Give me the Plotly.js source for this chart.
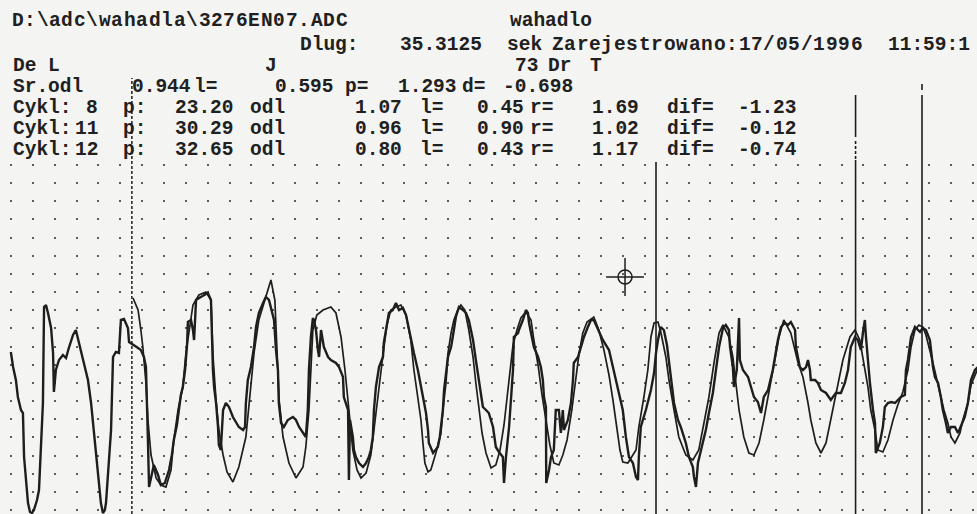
<!DOCTYPE html>
<html>
<head>
<meta charset="utf-8">
<script src="https://cdn.plot.ly/plotly-3.0.1.min.js"></script>
<style>
  html, body { margin: 0; padding: 0; background: #f4f4f2; }
  #chart { width: 977px; height: 514px; }
</style>
</head>
<body>
<div id="chart"></div>
<script>
// ---- header information ----
const fileName = "D:\\adc\\wahadla\\3276EN07.ADC";
const testName = "wahadlo";
const durationSec = 35.3125;
const recDate = "17/05/1996";
const recTime = "11:59:1";
const headerLeft = "De L";
const headerMid = "J";
const headerRight = "73 Dr T";

// mean values (Sr.odl row)
const meanOdl = 0.944;
const meanL = 0.595;
const meanP = 1.293;
const meanD = -0.698;

// selected cycles
const cycleNo = [8, 11, 12];
const cycleP = [23.20, 30.29, 32.65];      // cycle position [s]
const cycleOdl = [1.07, 0.96, 0.80];
const cycleL = [0.45, 0.90, 0.43];
const cycleR = [1.69, 1.02, 1.17];
const cycleDif = [-1.23, -0.12, -0.74];

// start marker of the analysed section [s]
const startMarkT = 4.58;

// cursor position (time [s], amplitude)
const cursorT = [22.10];
const cursorY = [237];

// pendulum (smooth) trace: time [s], amplitude [ADC units]
const pendT = [
  4.62,4.80,4.90,4.97,5.08,5.15,5.26,5.44,5.61,5.79,
  5.97,6.07,6.22,6.39,6.50,6.61,6.75,6.96,7.21,7.39,
  7.46,7.57,7.67,7.82,7.96,8.17,8.38,8.63,8.74,8.92,
  9.09,9.27,9.41,9.52,9.66,9.73,9.81,9.95,10.16,10.41,
  10.66,10.76,10.87,10.94,11.01,11.15,11.37,11.65,11.83,12.01,
  12.15,12.29,12.43,12.58,12.72,12.90,13.07,13.18,13.32,13.50,
  13.64,13.78,13.96,14.14,14.32,14.49,14.60,14.74,14.85,14.92,
  14.99,15.10,15.20,15.38,15.56,15.63,15.74,15.81,15.92,16.02,
  16.16,16.27,16.41,16.55,16.70,16.80,16.91,17.02,17.16,17.34,
  17.51,17.66,17.80,17.90,18.01,18.12,18.26,18.40,18.58,18.76,
  18.86,19.01,19.15,19.29,19.43,19.57,19.75,19.89,20.04,20.21,
  20.32,20.46,20.60,20.75,20.99,21.17,21.35,21.53,21.67,21.81,
  21.92,22.02,22.20,22.49,22.59,22.77,22.91,23.02,23.13,23.27,
  23.37,23.55,23.66,23.84,24.01,24.26,24.51,24.72,24.90,25.08,
  25.26,25.44,25.58,25.79,25.93,26.04,26.15,26.32,26.50,26.68,
  26.86,27.03,27.21,27.39,27.57,27.74,27.99,28.24,28.42,28.60,
  28.70,28.88,29.06,29.24,29.41,29.59,29.84,30.09,30.27,30.44,
  30.55,30.73,30.83,30.98,31.08,31.26,31.44,31.62,31.79,31.97,
  32.15,32.26,32.40,32.54,32.68,32.79,33.04,33.18,33.32,33.43,
  33.57,33.68,33.82,34.00,34.10,34.28,34.39,34.64
];
const pendY = [
  216,204,184,167,131,94,59,36,29,27,
  44,74,104,127,161,184,209,219,222,214,
  159,114,84,59,42,32,47,77,111,161,
  194,211,224,234,214,174,114,77,51,36,
  47,67,104,144,184,199,204,207,201,177,
  144,104,64,44,36,41,59,84,119,159,
  189,204,207,209,199,174,144,117,94,71,
  51,42,44,61,81,104,131,161,181,194,
  204,209,204,184,157,131,104,81,61,46,
  49,64,89,114,144,169,184,196,202,194,
  174,149,119,94,69,51,49,59,74,104,
  129,159,181,192,197,184,164,139,114,84,
  64,52,51,64,87,117,144,177,191,192,
  182,157,134,104,77,59,54,64,91,117,
  151,181,189,177,157,131,104,77,61,59,
  71,94,121,151,177,194,181,152,137,111,
  94,71,61,71,94,121,154,177,184,174,
  157,127,104,84,64,62,74,94,109,122,
  144,167,184,189,187,179,151,134,117,104,
  91,77,71,81,94,111,129,146
];

// recorded response (noisy) trace: time [s], amplitude [ADC units]
const respT = [
  0.28,0.36,0.46,0.53,0.64,0.71,0.75,0.82,0.89,0.96,
  1.03,1.10,1.21,1.28,1.35,1.42,1.46,1.53,1.60,1.71,
  1.78,1.81,1.88,1.99,2.13,2.24,2.34,2.49,2.59,2.66,
  2.84,3.02,3.13,3.23,3.37,3.48,3.55,3.62,3.66,3.73,
  3.84,3.91,4.01,4.12,4.19,4.30,4.44,4.48,4.62,4.80,
  4.90,5.01,5.08,5.12,5.15,5.19,5.26,5.36,5.51,5.61,
  5.75,5.90,6.00,6.07,6.18,6.25,6.32,6.39,6.47,6.54,
  6.57,6.68,6.75,6.79,6.86,7.03,7.28,7.39,7.42,7.46,
  7.50,7.57,7.64,7.67,7.74,7.82,7.92,8.03,8.17,8.28,
  8.38,8.53,8.60,8.63,8.70,8.81,8.92,8.99,9.09,9.24,
  9.34,9.45,9.63,9.70,9.77,9.80,9.88,9.98,10.12,10.30,
  10.41,10.52,10.66,10.76,10.83,10.87,10.94,11.01,11.05,11.12,
  11.19,11.23,11.30,11.40,11.55,11.65,11.83,11.94,12.08,12.11,
  12.26,12.29,12.33,12.43,12.47,12.54,12.65,12.79,12.90,13.00,
  13.07,13.14,13.18,13.25,13.36,13.50,13.53,13.61,13.71,13.85,
  13.96,14.07,14.21,14.32,14.42,14.49,14.60,14.74,14.85,14.96,
  15.03,15.10,15.13,15.28,15.31,15.45,15.52,15.56,15.63,15.67,
  15.74,15.81,15.92,15.99,16.02,16.09,16.20,16.34,16.45,16.55,
  16.63,16.70,16.80,16.87,16.98,17.05,17.16,17.26,17.41,17.51,
  17.62,17.76,17.80,17.87,17.98,18.05,18.12,18.15,18.30,18.33,
  18.47,18.58,18.65,18.69,18.76,18.86,19.01,19.11,19.18,19.22,
  19.29,19.30,19.40,19.47,19.57,19.64,19.75,19.82,19.89,19.93,
  20.07,20.18,20.25,20.28,20.43,20.53,20.64,20.78,20.89,20.99,
  21.14,21.31,21.53,21.67,21.85,22.02,22.13,22.24,22.38,22.49,
  22.56,22.59,22.66,22.84,23.02,23.13,23.20,23.27,23.37,23.48,
  23.59,23.73,23.77,23.84,23.98,24.08,24.26,24.37,24.51,24.55,
  24.62,24.69,24.80,24.97,25.08,25.22,25.33,25.44,25.58,25.68,
  25.79,25.83,25.93,25.97,26.07,26.15,26.18,26.29,26.47,26.57,
  26.68,26.82,26.93,27.03,27.18,27.35,27.53,27.64,27.78,27.89,
  27.99,28.14,28.17,28.24,28.31,28.42,28.53,28.60,28.67,28.70,
  28.85,28.95,29.06,29.24,29.41,29.59,29.77,29.91,30.02,30.12,
  30.27,30.37,30.48,30.55,30.62,30.66,30.73,30.80,30.91,30.98,
  31.01,31.15,31.26,31.33,31.44,31.55,31.69,31.79,31.90,32.04,
  32.08,32.15,32.26,32.40,32.58,32.68,32.79,32.93,32.97,33.04,
  33.11,33.22,33.32,33.39,33.50,33.57,33.68,33.82,33.93,34.03,
  34.17,34.28,34.39,34.53,34.64
];
const respY = [
  162,147,134,117,104,101,57,34,11,2,
  1,4,14,24,64,111,207,209,201,186,
  161,122,144,154,159,156,166,179,184,176,
  157,134,111,81,44,11,1,4,11,37,
  84,157,162,161,194,195,186,172,169,166,
  164,157,147,114,74,27,36,49,39,29,
  31,44,59,74,89,104,119,127,144,169,
  192,194,184,174,214,217,221,214,177,144,
  127,111,87,69,64,104,111,107,97,91,
  87,84,87,111,134,147,167,187,201,211,
  217,214,194,164,144,111,91,87,94,97,
  94,87,81,77,104,144,177,196,194,184,
  164,157,184,167,157,154,151,147,137,117,
  104,34,94,77,64,57,51,47,51,57,
  64,77,104,127,147,157,171,184,201,204,
  211,204,206,199,184,177,161,144,127,111,
  101,84,71,61,62,67,77,87,104,124,
  144,157,167,177,184,197,207,204,201,194,
  184,174,154,141,124,107,104,101,87,67,
  62,57,31,57,87,111,144,177,181,184,
  194,204,201,191,181,167,157,147,134,117,
  107,31,44,57,64,104,104,81,104,84,
  94,111,134,151,157,167,177,187,194,194,
  184,174,164,147,127,104,77,57,51,37,
  34,57,87,104,124,141,161,174,187,184,
  169,137,124,111,94,87,71,57,47,37,
  27,51,64,84,101,121,144,167,186,189,
  184,167,147,127,144,196,154,144,137,127,
  117,112,101,117,124,144,174,187,191,189,
  192,184,167,157,147,144,147,154,144,134,
  134,131,124,121,114,121,121,131,144,167,
  177,174,164,181,194,177,151,131,104,91,
  61,71,87,107,111,112,111,114,117,119,
  144,154,177,187,182,186,184,174,164,147,
  137,131,117,104,91,81,87,87,81,87,
  97,111,134,144,147
];

// ---- page geometry ----
const W = 977, H = 514, PLOT_TOP = 164;
const INK = "#1e1e1e";
const CELL = 12.46;                               // character cell width of the printout
const px2x = px => px / W;                        // pixel column -> paper x
const py2y = py => (H - py) / (H - PLOT_TOP);     // pixel row -> paper y

// text rows: [left pixel, text, anchor] per row; row position is the cap centre
const rowY = [20, 44, 65, 86, 107, 128, 149];
const f2 = v => v.toFixed(2);
const f3 = v => v.toFixed(3);
const rows = [
  [[13, fileName], [510, testName]],
  [[300, "Dlug:"], [400, durationSec.toFixed(4)], [507, "sek"],
   [553, "Zarejestrowano:" + recDate], [888, recTime]],
  [[13, headerLeft], [265, headerMid], [515, "73"], [548, "Dr"], [590, "T"]],
  [[13, "Sr.odl"], [132, f3(meanOdl)], [194, "l="], [275, f3(meanL)],
   [345, "p="], [398, f3(meanP)], [462, "d="], [503, f3(meanD)]]
];
cycleNo.forEach((n, i) => {
  rows.push([
    [13, "Cykl:"], [98, String(n), "right"], [123, "p:"], [175, f2(cycleP[i])],
    [250, "odl"], [355, f2(cycleOdl[i])], [420, "l="], [477, f2(cycleL[i])],
    [530, "r="], [592, f2(cycleR[i])], [667, "dif="], [738, f2(cycleDif[i])]
  ]);
});

const FONT = { family: "Liberation Mono, DejaVu Sans Mono, monospace",
               size: 19.5, weight: "bold", color: "#202020" };
const annotations = [];
const addText = (x, y, txt, anchor) => annotations.push({
  xref: "paper", yref: "paper", x: x, y: y,
  xanchor: anchor, yanchor: "middle",
  text: txt, showarrow: false, borderpad: 0, font: FONT
});
rows.forEach((row, r) => {
  const y = py2y(rowY[r] + 1.2);
  row.forEach(([px, txt, anchor]) => {
    if (txt.length > 8) {
      // long strings are set glyph by glyph on the printout's character grid
      [...txt].forEach((ch, k) => {
        if (ch !== " ") addText(px2x(px + 4.6 + k * CELL), y, ch, "center");
      });
    } else if (anchor === "right") {
      addText(px2x(px + 1), y, txt, "right");
    } else {
      addText(px2x(px - 1.2), y, txt, "left");
    }
  });
});

// vertical cycle markers (top end in pixel rows) and start marker
const shapes = [];
const vline = (x, top, bottom, dash, width) => shapes.push({
  type: "line", xref: "x", yref: "paper",
  x0: x, x1: x, y0: py2y(bottom), y1: py2y(top),
  line: { color: INK, width: width || 1.6, dash: dash || "solid" }
});
vline(cycleP[0], 162, H);
vline(cycleP[1], 160, H);
vline(cycleP[1], 139, 159, "3px,2px");
vline(cycleP[1], 95, 137);
vline(cycleP[2], 95, H);
vline(cycleP[2], 84, 90);
vline(startMarkT, 78, H, "3px,2px", 1.5);

const traces = [
  { x: pendT, y: pendY, mode: "lines", type: "scatter",
    line: { color: INK, width: 1.7 }, hoverinfo: "skip" },
  { x: respT, y: respY, mode: "lines", type: "scatter",
    line: { color: INK, width: 2.4 }, hoverinfo: "skip" },
  { x: cursorT, y: cursorY, mode: "markers", type: "scatter",
    marker: { symbol: "circle-open", size: 14, color: INK, line: { width: 1.5, color: INK } },
    hoverinfo: "skip" },
  { x: cursorT, y: cursorY, mode: "markers", type: "scatter",
    marker: { symbol: "cross-thin-open", size: 27, color: INK, line: { width: 1.5, color: INK } },
    hoverinfo: "skip" }
];

const layout = {
  width: W, height: H,
  margin: { l: 0, r: 0, t: PLOT_TOP, b: 0, pad: 0 },
  paper_bgcolor: "#f4f4f2", plot_bgcolor: "#f4f4f2",
  showlegend: false,
  xaxis: {
    range: [-0.105, 34.604], tickmode: "linear", tick0: 0.284, dtick: 0.7766,
    showgrid: true, gridcolor: "#5c5c5c", gridwidth: 2, griddash: "2px,16.16px",
    zeroline: false, showline: false, ticks: "", showticklabels: false, fixedrange: true
  },
  yaxis: {
    range: [0, H - PLOT_TOP], showgrid: false, zeroline: false, showline: false,
    ticks: "", showticklabels: false, fixedrange: true
  },
  shapes: shapes,
  annotations: annotations
};

Plotly.newPlot("chart", traces, layout, { displayModeBar: false, staticPlot: true });
</script>
</body>
</html>
